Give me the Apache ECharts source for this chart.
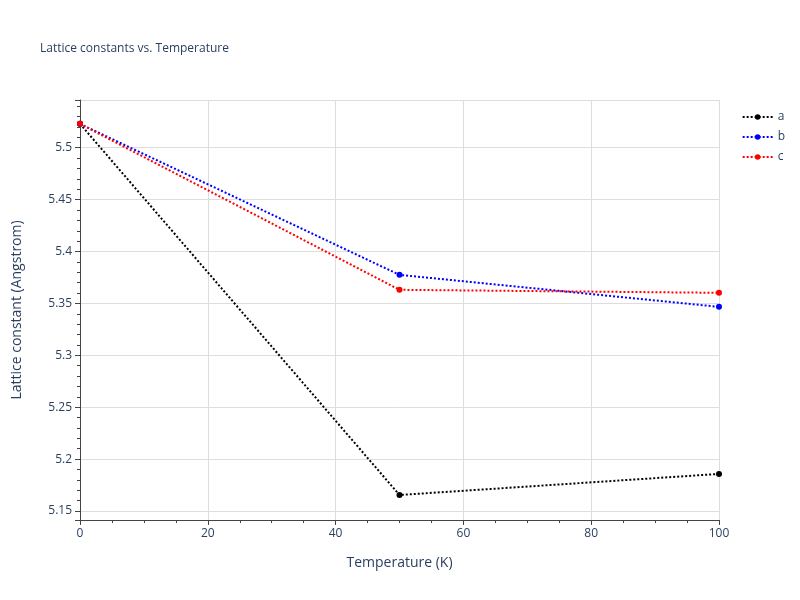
<!DOCTYPE html>
<html>
<head>
<meta charset="utf-8">
<script src="https://cdn.jsdelivr.net/npm/echarts@6/dist/echarts.min.js"></script>
<style>html,body{margin:0;background:#fff}#c{width:800px;height:600px}</style>
</head>
<body>
<div id="c"></div>
<script>
// data
const temps = [0, 50, 100]
const seriesA = [5.523, 5.1654, 5.1857]
const seriesB = [5.523, 5.3775, 5.3467]
const seriesC = [5.523, 5.3631, 5.3602]
const names = ['a', 'b', 'c']
const colors = ['#000000', '#0000ff', '#ff0000']

const chart = echarts.init(document.getElementById('c'))
const mk = (name, vals, color) => ({
  name, type: 'line', data: temps.map((t, i) => [t, vals[i]]),
  symbol: 'circle', symbolSize: 6, color,
  lineStyle: { type: 'dotted', width: 2, color },
  itemStyle: { color }
})
const font = 'Open Sans, sans-serif'
const txt = '#2a3f5f'
chart.setOption({
  animation: false,
  title: { text: 'Lattice constants vs. Temperature', left: 35, top: 38,
    textStyle: { fontSize: 12, fontWeight: 'normal', color: txt, fontFamily: font } },
  legend: { orient: 'vertical', right: 10, top: 106, itemWidth: 30, itemHeight: 7, itemGap: 8,
    textStyle: { fontSize: 12, color: txt, fontFamily: font }, data: names },
  grid: { left: 80, right: 81, top: 100, bottom: 80 },
  xAxis: {
    type: 'value', min: 0, max: 100, interval: 20,
    name: 'Temperature (K)', nameLocation: 'middle', nameGap: 36,
    nameTextStyle: { fontSize: 14, color: txt, fontFamily: font },
    axisLine: { lineStyle: { color: '#444' } },
    axisTick: { show: true, length: 5, lineStyle: { color: '#444' } },
    minorTick: { show: true, splitNumber: 4, length: 3, lineStyle: { color: '#444' } },
    axisLabel: { color: txt, fontSize: 12, fontFamily: font },
    splitLine: { show: true, lineStyle: { color: '#ddd' } }
  },
  yAxis: {
    type: 'value', min: 5.1413, max: 5.546, splitNumber: 8,
    name: 'Lattice constant (Angstrom)', nameLocation: 'middle', nameGap: 56,
    nameTextStyle: { fontSize: 14, color: txt, fontFamily: font },
    axisLine: { show: true, lineStyle: { color: '#444' } },
    axisTick: { show: true, length: 5, lineStyle: { color: '#444' } },
    minorTick: { show: true, splitNumber: 5, length: 3, lineStyle: { color: '#444' } },
    axisLabel: { color: txt, fontSize: 12, fontFamily: font, showMinLabel: false, showMaxLabel: false },
    splitLine: { show: true, lineStyle: { color: '#ddd' } }
  },
  series: [mk('a', seriesA, colors[0]), mk('b', seriesB, colors[1]), mk('c', seriesC, colors[2])]
})
</script>
</body>
</html>
